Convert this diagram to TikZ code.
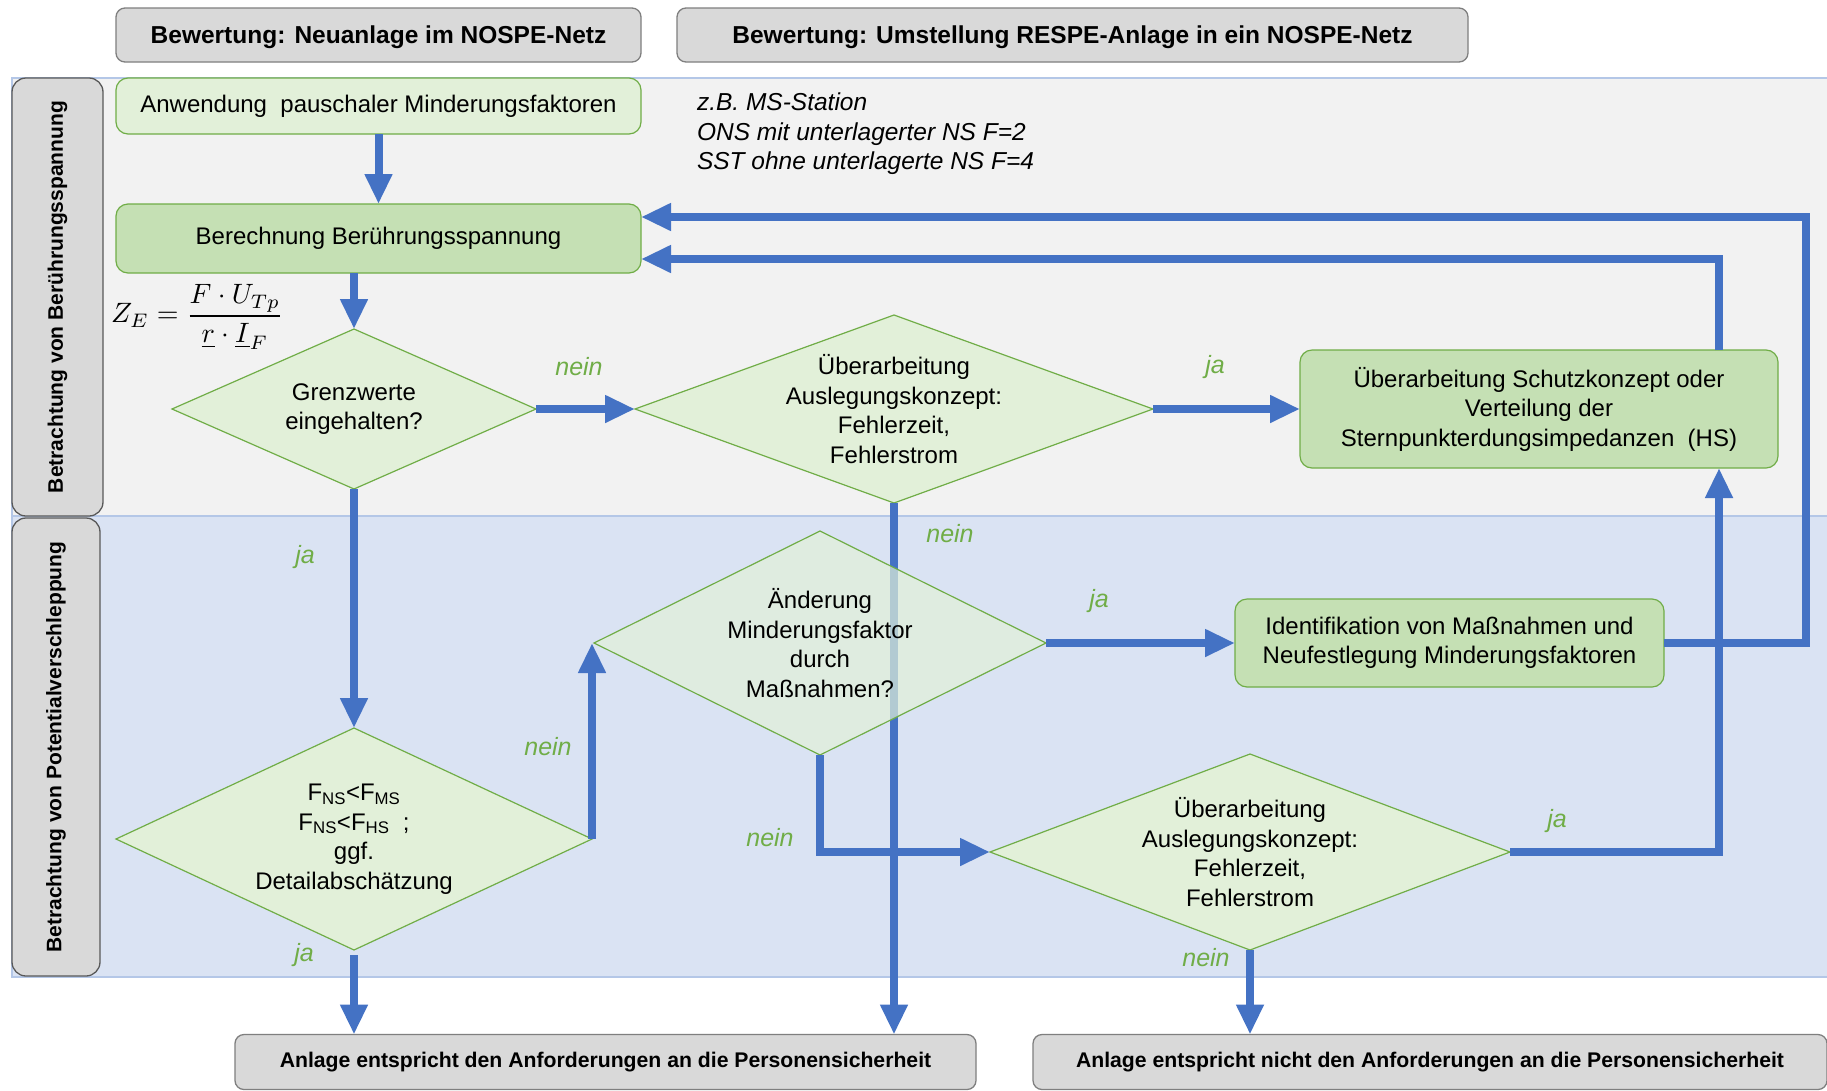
\documentclass[tikz,border=0pt]{standalone}
\usepackage{fontspec}
\setmainfont{Liberation Sans}
\usetikzlibrary{arrows.meta,shapes.geometric}
\definecolor{arrowblue}{HTML}{4472C4}
\definecolor{bandgray}{HTML}{F2F2F2}
\definecolor{bandblue}{HTML}{DAE3F3}
\definecolor{bandline}{HTML}{B4C7E7}
\definecolor{hdrfill}{HTML}{D9D9D9}
\definecolor{hdrline}{HTML}{7F7F7F}
\definecolor{lightgreen}{HTML}{E2F0D9}
\definecolor{midgreen}{HTML}{C5E0B4}
\definecolor{greenline}{HTML}{70AD47}
\begin{document}
\begin{tikzpicture}[x=1pt,y=-1pt,
  every node/.style={inner sep=0pt, outer sep=0pt},
  hdr/.style={draw=hdrline, fill=hdrfill, rounded corners=9pt, line width=1.3pt, font=\fontsize{24.5}{28}\selectfont\bfseries},
  botbox/.style={draw=hdrline, fill=hdrfill, rounded corners=9pt, line width=1.3pt, font=\fontsize{21.2}{24}\selectfont\bfseries},
  sidebox/.style={draw=hdrline!70!black, fill=hdrfill, rounded corners=14pt, line width=1.3pt, rotate=90, font=\fontsize{21}{24}\selectfont\bfseries},
  gbox/.style={draw=greenline, line width=1.2pt, rounded corners=12pt, align=center, font=\fontsize{24}{29.5}\selectfont},
  dia/.style={diamond, draw=greenline, fill=lightgreen, line width=1.2pt},
  dtxt/.style={align=center, font=\fontsize{24}{29.5}\selectfont},
  lbl/.style={text=greenline, font=\fontsize{25}{28}\selectfont\itshape},
  flow/.style={draw=arrowblue, line width=8pt, -{Triangle[width=26pt,length=30pt]}},
]
\useasboundingbox (0,0) rectangle (1827,1090);
\fill[white] (0,0) rectangle (1827,1090);
% bands
\draw[draw=bandline, fill=bandgray, line width=1.5pt] (12,78) rectangle (1830,516);
\draw[draw=bandline, fill=bandblue, line width=1.5pt] (12,516) rectangle (1830,977);
% side labels
\node[sidebox, minimum width=438pt, minimum height=91pt] (s1) at (57.5,297) {Betrachtung von Berührungsspannung};
\node[sidebox, minimum width=458pt, minimum height=88pt] (s2) at (56,747) {Betrachtung von Potentialverschleppung};
% headers
\node[hdr, minimum width=525pt, minimum height=54pt, text depth=0pt] (h1) at (378.5,35) {Bewertung: Neuanlage im NOSPE-Netz};
\node[hdr, minimum width=791pt, minimum height=54pt, text depth=0pt] (h2) at (1072.5,35) {Bewertung: Umstellung RESPE-Anlage in ein NOSPE-Netz};
% boxes
\node[gbox, fill=lightgreen, minimum width=525pt, minimum height=56pt] (anw) at (378.5,106) {Anwendung\ \ pauschaler Minderungsfaktoren};
\node[gbox, fill=midgreen, minimum width=525pt, minimum height=69pt] (ber) at (378.5,238.5) {Berechnung Berührungsspannung};
\node[gbox, fill=midgreen, minimum width=478pt, minimum height=118pt] (schutz) at (1539,409) {Überarbeitung Schutzkonzept oder\\Verteilung der\\Sternpunkterdungsimpedanzen\ \ (HS)};
\node[gbox, fill=midgreen, minimum width=429pt, minimum height=88pt] (ident) at (1449.5,643) {Identifikation von Maßnahmen und\\Neufestlegung Minderungsfaktoren};
% bottom boxes
\node[botbox, minimum width=741pt, minimum height=55pt] (bot1) at (605.5,1062) {Anlage entspricht den Anforderungen an die Personensicherheit};
\node[botbox, minimum width=794pt, minimum height=55pt] (bot2) at (1430,1062) {Anlage entspricht nicht den Anforderungen an die Personensicherheit};
% diamonds
\node[dia, minimum width=364pt, minimum height=160pt] (d1) at (354,409) {};
\node[dia, minimum width=518pt, minimum height=188pt] (d2) at (894,409) {};
\draw[flow] (d2.south) -- (d2.south |- bot1.north);
\node[dia, minimum width=452pt, minimum height=224pt, fill opacity=0.7] (d3) at (820,643) {};
\node[dia, minimum width=476pt, minimum height=222pt] (d4) at (354,839) {};
\node[dia, minimum width=520pt, minimum height=196pt] (d5) at (1250,852) {};
\node[dtxt] (d1t) at (d1) {Grenzwerte\\eingehalten?};
\node[dtxt] (d2t) at (d2) {Überarbeitung\\Auslegungskonzept:\\Fehlerzeit,\\Fehlerstrom};
\node[dtxt] (d3t) at (d3) {Änderung\\Minderungsfaktor\\durch\\Maßnahmen?};
\node[dtxt] (d4t) at (d4) {F\textsubscript{NS}<F\textsubscript{MS}\\F\textsubscript{NS}<F\textsubscript{HS}\ \ ;\\ggf.\\Detailabschätzung};
\node[dtxt] (d5t) at (d5) {Überarbeitung\\Auslegungskonzept:\\Fehlerzeit,\\Fehlerstrom};
% note and formula
\node[anchor=west, align=left, font=\fontsize{24.5}{29.5}\selectfont\itshape] (note) at (697,134) {z.B. MS-Station\\ONS mit unterlagerter NS F=2\\SST ohne unterlagerte NS F=4};
\node[anchor=west, scale=2.8] (formula) at (111,317) {$Z_E=\displaystyle\frac{F\cdot U_{Tp}}{\underline{r}\cdot\underline{I}_F}$};
% coordinates for loops
\coordinate (c1) at (1719,259);
\coordinate (c2) at (1806,217);
% connectors
\draw[flow] (anw.south) -- (ber.north);
\draw[flow] (ber.south -| d1.north) -- (d1.north);
\draw[flow] (d1.east) -- (d2.west);
\draw[flow] (d2.east) -- (schutz.west);
\draw[flow] (schutz.north -| c1) |- (ber.east |- c1);
\draw[flow] (ident.east) -| (c2) -- (ber.east |- c2);
\draw[flow] (d1.south) -- (d4.north);
\draw[flow] (d4.east) -- (d4.east |- d3.west);
\draw[flow] (d3.east) -- (ident.west);
\draw[flow] (d3.south) |- (d5.west);
\draw[flow] (d5.east) -| (schutz.south -| c1);
\draw[flow] (d5.south) -- (d5.south |- bot2.north);
\draw[flow] ([yshift=-5pt]d4.south) -- (d4.south |- bot1.north);
% labels
\node[lbl] (l1) at (579,367) {nein};
\node[lbl] (l2) at (1215,367) {ja};
\node[lbl] (l3) at (305,557) {ja};
\node[lbl] (l4) at (950,534) {nein};
\node[lbl] (l5) at (1099,601) {ja};
\node[lbl] (l6) at (548,747) {nein};
\node[lbl] (l7) at (770,838) {nein};
\node[lbl] (l8) at (1557,821) {ja};
\node[lbl] (l9) at (304,955) {ja};
\node[lbl] (l10) at (1206,958) {nein};
\end{tikzpicture}
\end{document}
